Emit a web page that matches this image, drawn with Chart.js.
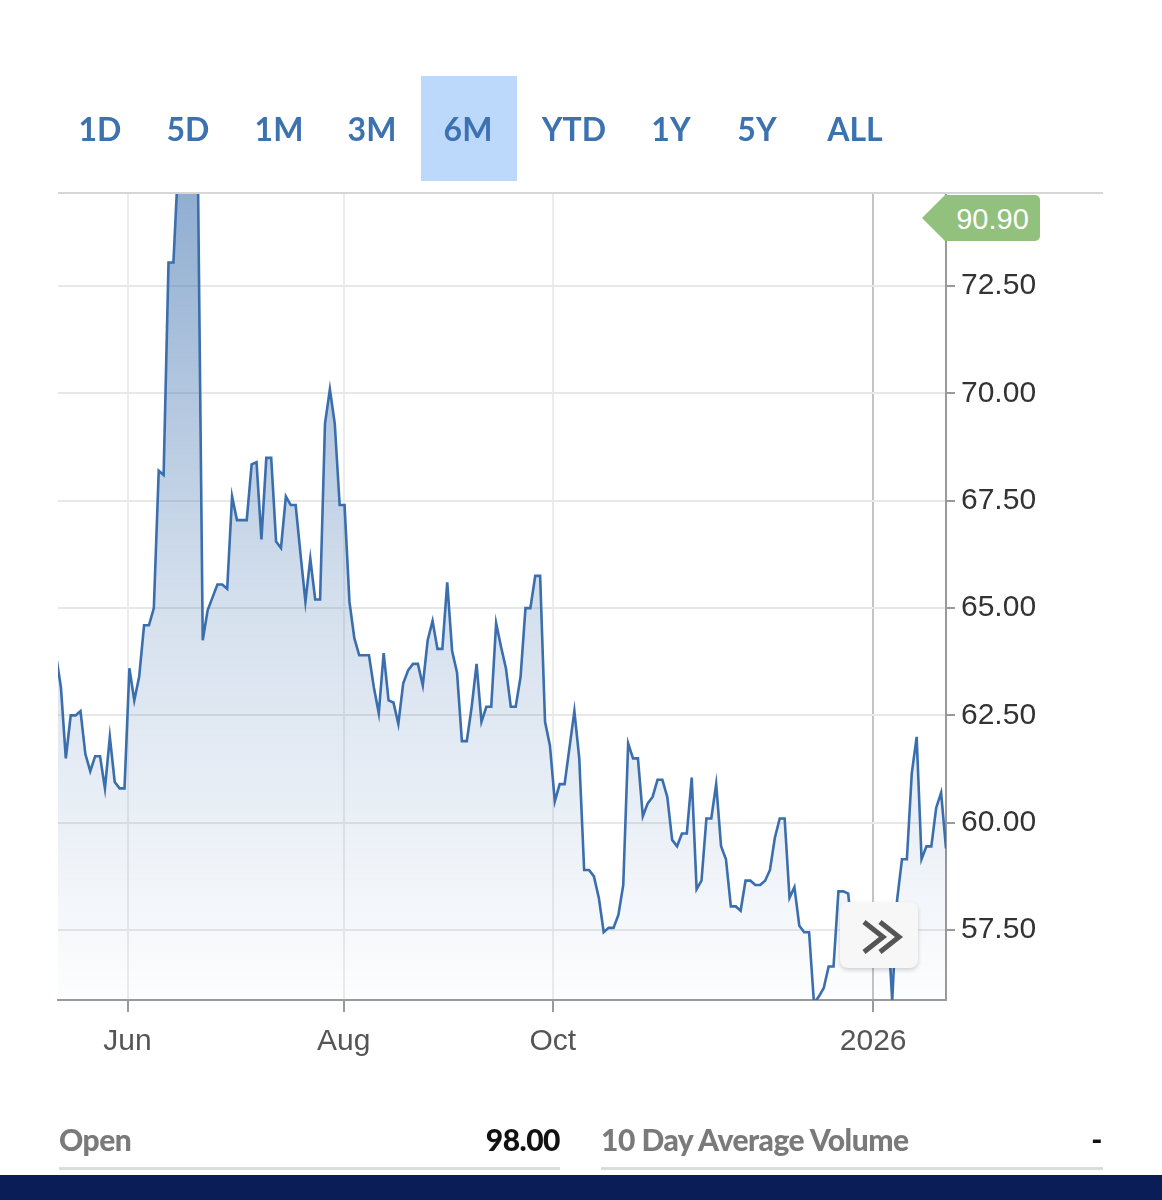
<!DOCTYPE html>
<html>
<head>
<meta charset="utf-8">
<script src="https://cdn.jsdelivr.net/npm/chart.js@4.4.1/dist/chart.umd.min.js"></script>
<style>
  html, body { margin: 0; padding: 0; background: #fff; }
  body { width: 1162px; height: 1200px; position: relative; overflow: hidden; font-family: "Lato", sans-serif; }
  #chart { position: absolute; left: 0; top: 0; }
  .range { position: absolute; top: 76px; height: 105px; line-height: 105px; font-size: 32px; font-weight: 700;
           color: #3c72b0; transform: translateX(-50%); white-space: nowrap; }
  #sel { position: absolute; left: 421px; top: 76px; width: 96px; height: 105px; background: #bcd8fa; }
  #topline { position: absolute; left: 58px; top: 192px; width: 1045px; height: 2px; background: #d6d6d6; }
  #badge { position: absolute; left: 945px; top: 195px; width: 95px; height: 46px; background: #92c07d;
           border-radius: 0 5px 5px 0; color: #fff; font: 29px "Liberation Sans", sans-serif; line-height: 48px; text-align: center; }
  #badge:before { content: ''; position: absolute; left: -23px; top: 0; border-right: 23px solid #92c07d;
                  border-top: 23px solid transparent; border-bottom: 23px solid transparent; }
  #more { position: absolute; left: 840px; top: 902px; width: 78px; height: 66px; background: #f7f7f7;
          border-radius: 8px; box-shadow: 0 2px 4px rgba(0,0,0,0.18); }
  .stat { position: absolute; top: 1119px; height: 40px; line-height: 40px; font-size: 30px; font-weight: 900; color: #7a7a7a;
          white-space: nowrap; letter-spacing: -0.5px; }
  .val { color: #111; }
  .uline { position: absolute; top: 1167px; height: 3px; background: #dcdcdc; }
  #footer { position: absolute; left: 0; top: 1175px; width: 1162px; height: 25px; background: #0b1d57; }
</style>
</head>
<body>
<canvas id="chart" width="1162" height="1200"></canvas>

<div id="sel"></div>
<div class="range" style="left:100px">1D</div>
<div class="range" style="left:188px">5D</div>
<div class="range" style="left:279px">1M</div>
<div class="range" style="left:372px">3M</div>
<div class="range" style="left:468px">6M</div>
<div class="range" style="left:574px">YTD</div>
<div class="range" style="left:671px">1Y</div>
<div class="range" style="left:757px">5Y</div>
<div class="range" style="left:855px">ALL</div>

<div id="topline"></div>
<div id="badge">90.90</div>
<div id="more">
  <svg width="78" height="66">
    <polyline points="24,20 43,35 24,50" fill="none" stroke="#555" stroke-width="5"/>
    <polyline points="40,20 59,35 40,50" fill="none" stroke="#555" stroke-width="5"/>
  </svg>
</div>

<div class="stat" style="left:59px">Open</div>
<div class="stat val" style="right:602px">98.00</div>
<div class="uline" style="left:59px; width:501px"></div>
<div class="stat" style="left:601px">10 Day Average Volume</div>
<div class="stat val" style="right:60px">-</div>
<div class="uline" style="left:601px; width:502px"></div>
<div id="footer"></div>

<script>
// daily closes, one per trading day (mid May 2025 -> late Jan 2026)
const prices = [
  63.9, 63.15, 61.5, 62.5, 62.5, 62.6, 61.6, 61.2, 61.55, 61.55,
  60.8, 62.0, 60.95, 60.8, 60.8, 63.6, 62.85, 63.4, 64.6, 64.6,
  65.0, 68.2, 68.1, 73.05, 73.05, 75.4, 75.8, 76.0, 75.6, 75.3,
  64.25, 64.95, 65.25, 65.55, 65.55, 65.45, 67.6, 67.05, 67.05, 67.05,
  68.35, 68.4, 66.6, 68.5, 68.5, 66.55, 66.4, 67.6, 67.4, 67.4,
  66.25, 65.15, 66.15, 65.2, 65.2, 69.3, 70.1, 69.3, 67.4, 67.4,
  65.15, 64.3, 63.9, 63.9, 63.9, 63.15, 62.55, 63.95, 62.85, 62.8,
  62.3, 63.25, 63.55, 63.7, 63.7, 63.2, 64.25, 64.7, 64.05, 64.05,
  65.6, 64.0, 63.5, 61.9, 61.9, 62.7, 63.7, 62.35, 62.7, 62.7,
  64.65, 64.1, 63.6, 62.7, 62.7, 63.4, 65.0, 65.0, 65.75, 65.75,
  62.35, 61.8, 60.5, 60.9, 60.9, 61.75, 62.6, 61.5, 58.9, 58.9,
  58.75, 58.25, 57.45, 57.55, 57.55, 57.85, 58.55, 61.85, 61.5, 61.5,
  60.15, 60.45, 60.6, 61.0, 61.0, 60.6, 59.6, 59.45, 59.75, 59.75,
  61.05, 58.45, 58.65, 60.1, 60.1, 60.9, 59.45, 59.15, 58.05, 58.05,
  57.95, 58.65, 58.65, 58.55, 58.55, 58.65, 58.9, 59.65, 60.1, 60.1,
  58.25, 58.5, 57.6, 57.45, 57.45, 55.8, 55.95, 56.15, 56.65, 56.65,
  58.4, 58.4, 58.35, 57.2, 57.0, 57.3, 56.9, 57.2, 57.5, 57.3,
  57.9, 55.85, 58.2, 59.15, 59.15, 61.15, 62.0, 59.15, 59.45, 59.45,
  60.35, 60.7, 59.4
];

// where the month labels fall, in trading-day index
const tickLabels = ["Jun", "Aug", "Oct", "2026"];
const tickAt = [14.62, 58.82, 101.6, 167.1];

const yTicks = [57.5, 60, 62.5, 65, 67.5, 70, 72.5];
const yMin = 55.87, yMax = 74.67;

const axisFont = { family: "Liberation Sans", size: 30 };

let myChart = document.getElementById("chart").getContext("2d");
let priceChart = new Chart(myChart, {
  type: 'line',
  data: {
    datasets: [{
      data: prices.map((p, i) => ({ x: i, y: p })),
      borderColor: '#3a6ead',
      borderWidth: 2.6,
      pointRadius: 0,
      tension: 0,
      fill: 'start',
      backgroundColor: function(c) {
        const area = c.chart.chartArea;
        if (!area) return 'rgba(58,110,173,0.25)';
        const g = c.chart.ctx.createLinearGradient(0, area.top, 0, area.bottom);
        g.addColorStop(0, 'rgba(58,110,173,0.56)');
        g.addColorStop(0.5, 'rgba(58,110,173,0.22)');
        g.addColorStop(1, 'rgba(58,110,173,0.01)');
        return g;
      }
    }]
  },
  options: {
    responsive: false,
    animation: false,
    layout: { padding: { left: 58, top: 193, right: 0, bottom: 120 } },
    plugins: { legend: { display: false }, tooltip: { enabled: false } },
    scales: {
      x: {
        type: 'linear',
        min: 0.4,
        max: 182,
        afterBuildTicks: s => { s.ticks = tickAt.map(v => ({ value: v })); },
        afterFit: s => { s.height = 80; },
        ticks: {
          callback: (v, i) => tickLabels[i],
          autoSkip: false,
          maxRotation: 0,
          font: axisFont,
          color: '#555',
          padding: 12
        },
        grid: {
          color: c => (c.index === 3 ? '#c4c4c4' : '#ececec'),
          lineWidth: 2,
          tickColor: '#9a9a9a',
          tickLength: 12
        },
        border: { color: '#9a9a9a', width: 2 }
      },
      y: {
        position: 'right',
        min: yMin,
        max: yMax,
        afterBuildTicks: s => { s.ticks = yTicks.map(v => ({ value: v })); },
        afterFit: s => { s.width = 216; },
        ticks: {
          callback: v => v.toFixed(2),
          font: axisFont,
          color: '#333',
          padding: 6
        },
        grid: {
          color: '#e8e8e8',
          lineWidth: 2,
          tickColor: '#9a9a9a',
          tickLength: 9
        },
        border: { color: '#9a9a9a', width: 2 }
      }
    }
  }
});
</script>
</body>
</html>
